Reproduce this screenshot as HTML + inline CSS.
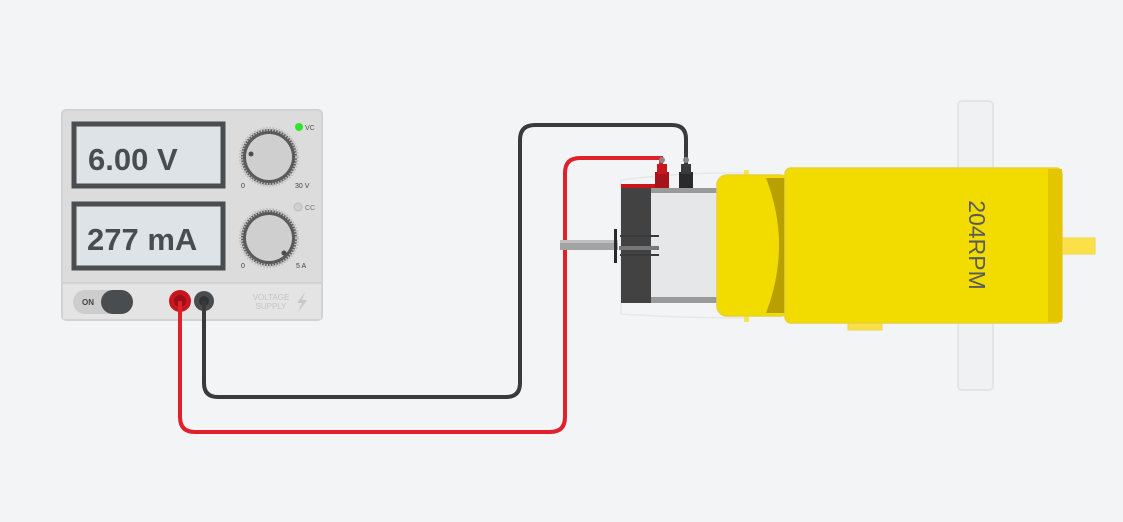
<!DOCTYPE html>
<html><head><meta charset="utf-8"><style>
html,body{margin:0;padding:0;background:#f3f4f6;}
svg{display:block;}
text{font-family:"Liberation Sans",sans-serif;}
</style></head><body>
<svg width="1123" height="522" viewBox="0 0 1123 522" xmlns="http://www.w3.org/2000/svg">
<rect width="1123" height="522" fill="#f3f4f6"/>
<!-- Power supply -->
<rect x="62" y="110" width="260" height="210" rx="4" fill="#dcdcdc" stroke="#d2d2d2" stroke-width="2"/>
<rect x="63" y="283" width="258" height="36" fill="#e4e4e4"/>
<line x1="63" y1="283" x2="321" y2="283" stroke="#cfcfcf" stroke-width="1.5"/>
<rect x="74" y="124" width="149" height="62" fill="#dde3e6" stroke="#4a4d4f" stroke-width="5"/>
<text x="88" y="170" font-size="31" font-weight="bold" fill="#4a4d4f">6.00 V</text>
<rect x="74" y="204" width="149" height="64" fill="#dde3e6" stroke="#4a4d4f" stroke-width="5"/>
<text x="87" y="250" font-size="31" font-weight="bold" fill="#4a4d4f">277 mA</text>
<!-- knobs -->
<circle cx="269" cy="157" r="28" fill="#5a5a5a"/>
<circle cx="269" cy="157" r="28" fill="none" stroke="#bdbdbd" stroke-width="4" stroke-dasharray="1.5 1.5"/>
<circle cx="269" cy="157" r="23" fill="#cfcfcf"/>
<circle cx="251" cy="154" r="2.5" fill="#4a4d4f"/>
<circle cx="269" cy="238" r="28" fill="#5a5a5a"/>
<circle cx="269" cy="238" r="28" fill="none" stroke="#bdbdbd" stroke-width="4" stroke-dasharray="1.5 1.5"/>
<circle cx="269" cy="238" r="23" fill="#cfcfcf"/>
<circle cx="284" cy="253" r="2.5" fill="#4a4d4f"/>
<circle cx="299" cy="127" r="4" fill="#2ee52e"/>
<text x="305" y="130" font-size="7" fill="#555">VC</text>
<circle cx="298" cy="207" r="4" fill="#cfcfcf" stroke="#bbb"/>
<text x="305" y="210" font-size="7" fill="#777">CC</text>
<text x="241" y="188" font-size="7" fill="#444">0</text>
<text x="295" y="188" font-size="7" fill="#444">30 V</text>
<text x="241" y="268" font-size="7" fill="#444">0</text>
<text x="296" y="268" font-size="7" fill="#444">5 A</text>
<!-- switch -->
<rect x="73" y="290" width="60" height="24" rx="12" fill="#cdcdcd"/>
<rect x="101" y="290" width="32" height="24" rx="12" fill="#4a4d4f"/>
<text x="82" y="305" font-size="8" font-weight="bold" fill="#444">ON</text>
<text x="271" y="300" font-size="8" fill="#c4c4c4" text-anchor="middle">VOLTAGE</text>
<text x="271" y="309" font-size="8" fill="#c4c4c4" text-anchor="middle">SUPPLY</text>
<path d="M305 292 L297 303 H302 L298 312 L307 300 H302 Z" fill="#c8c8c8"/>
<circle cx="180" cy="301" r="11" fill="#c8161e"/>
<circle cx="180" cy="301" r="6" fill="#9a1016"/>
<circle cx="204" cy="301" r="10" fill="#4a4d4f"/>
<circle cx="204" cy="301" r="5" fill="#333"/>
<!-- wires -->
<path d="M204 301 V383 Q204 397 218 397 H506 Q520 397 520 383 V140 Q520 125 535 125 H672 Q686 125 686 139 V165" fill="none" stroke="#3a3a3a" stroke-width="4"/>
<path d="M180 301 V417 Q180 432 195 432 H550 Q565 432 565 417 V173 Q565 158 580 158 H661 V166" fill="none" stroke="#e0202a" stroke-width="4"/>
<!-- bracket bar -->
<rect x="958" y="101" width="35" height="289" rx="4" fill="#f0f1f3" stroke="#e2e4e6" stroke-width="2"/>
<!-- motor -->
<path d="M621 180 Q680 172 745 173 V318 Q680 318 621 314 Z" fill="none" stroke="#e6e7e9" stroke-width="1.5"/>
<rect x="560" y="240" width="58" height="10" fill="#a3a3a3"/>
<rect x="560" y="240" width="58" height="3" fill="#c0c0c0"/>
<rect x="614" y="229" width="3" height="34" fill="#2a2a2a"/>
<rect x="621" y="188" width="30" height="115" fill="#424242"/>
<rect x="651" y="188" width="66" height="115" fill="#e6e7e9"/>
<rect x="651" y="188" width="66" height="5" fill="#9a9a9a"/>
<rect x="651" y="297" width="66" height="6" fill="#9a9a9a"/>
<rect x="621" y="184" width="40" height="4" fill="#c8161e"/>
<rect x="619" y="246" width="40" height="4" fill="#777"/>
<path d="M620 236 H659 M620 255 H659" stroke="#3a3a3a" stroke-width="2"/>
<rect x="655" y="172" width="14" height="16" fill="#a5141b"/>
<rect x="657" y="164" width="10" height="10" fill="#c8161e"/>
<circle cx="662" cy="160" r="3" fill="#888"/>
<rect x="679" y="172" width="14" height="16" fill="#2a2a2a"/>
<rect x="681" y="164" width="10" height="10" fill="#3a3a3a"/>
<circle cx="686" cy="160" r="3" fill="#888"/>
<!-- yellow gearbox -->
<rect x="744" y="170" width="5" height="6" fill="#f7e35a"/>
<rect x="744" y="316" width="5" height="6" fill="#f7e35a"/>
<rect x="717" y="175" width="73" height="141" rx="10" fill="#f2dc00" stroke="#e8d230" stroke-width="1.5"/>
<path d="M766 178 H790 V313 H766 Q792 245 766 178 Z" fill="#b8a000"/>
<rect x="848" y="318" width="34" height="12" fill="#f7e04a" stroke="#eed64a"/>
<rect x="1060" y="238" width="35" height="16" fill="#fbe04a" stroke="#efd84a"/>
<rect x="785" y="168" width="277" height="155" rx="6" fill="#f2dc00" stroke="#e8d230" stroke-width="1.5"/>
<rect x="1048" y="169" width="14" height="153" fill="#e3c600"/>
<text x="0" y="0" font-size="23" fill="#5a5a5a" text-anchor="middle" transform="translate(969,245) rotate(90)">204RPM</text>
</svg>
</body></html>
